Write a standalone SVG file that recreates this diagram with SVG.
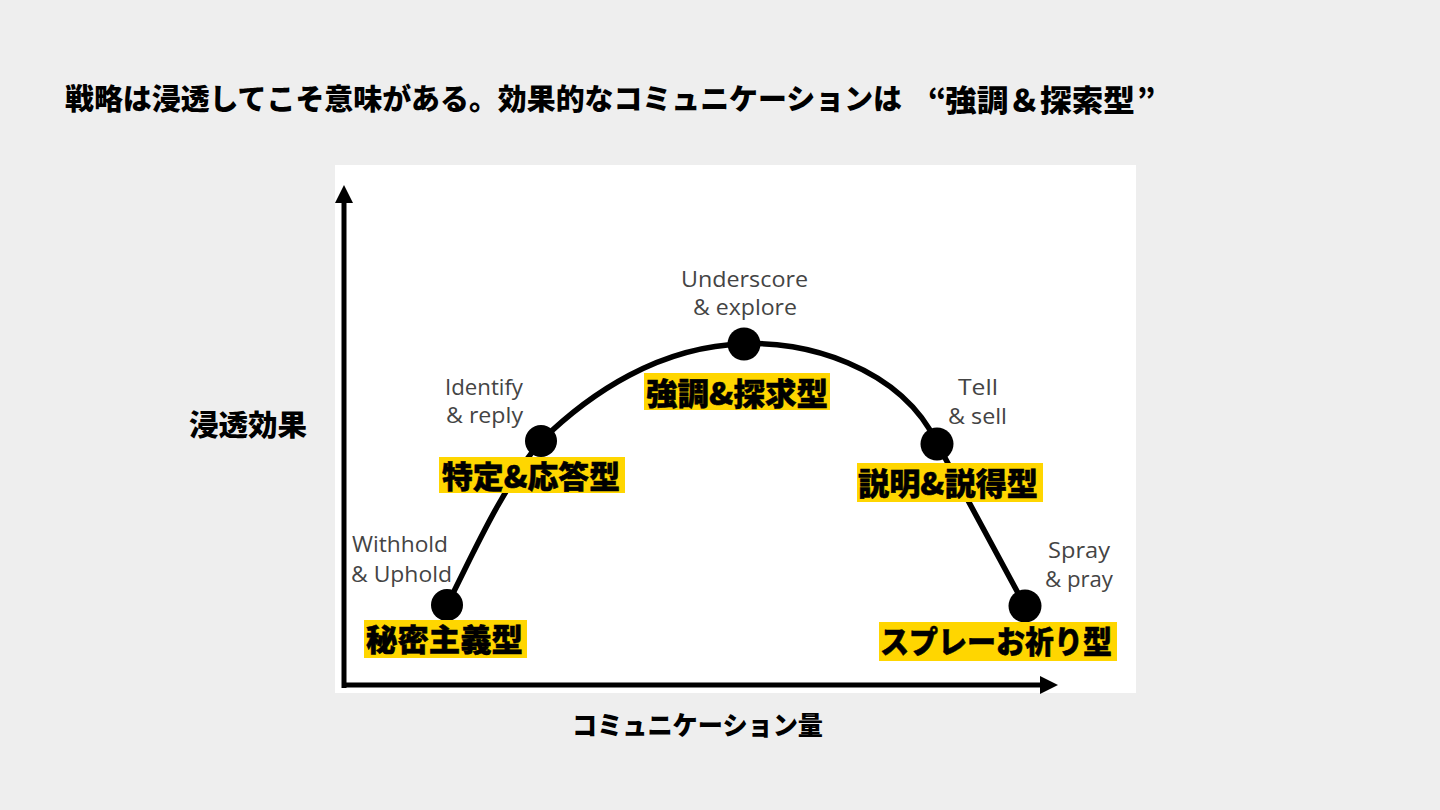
<svg xmlns="http://www.w3.org/2000/svg" width="1440" height="810" viewBox="0 0 1440 810">
  <style>
    .jp { font-family: "Noto Sans CJK JP", sans-serif; font-weight: 900; fill: #000; }
    .tag { font-family: "Noto Sans CJK JP", sans-serif; font-weight: 900; font-size: 31px; fill: #000; stroke: #000; stroke-width: 0.5; }
    .en { font-family: "Open Sans", "Noto Sans", sans-serif; font-size: 21.5px; fill: #444444; }
    .box { fill: #ffd600; }
    .dot { fill: #000; }
    .axis { stroke: #000; stroke-width: 5; fill: none; }
    .curve { stroke: #000; stroke-width: 5.5; fill: none; stroke-linecap: round; }
  </style>
  <defs>
    <marker id="arrow" viewBox="0 0 18 18" refX="0" refY="9" markerWidth="18" markerHeight="18" markerUnits="userSpaceOnUse" orient="auto">
      <path d="M0,0 L18,9 L0,18 z" fill="#000"/>
    </marker>
  </defs>

  <rect x="0" y="0" width="1440" height="810" fill="#eeeeee"/>

  <g id="title">
    <text class="jp" x="65" y="110" font-size="29" textLength="837" lengthAdjust="spacingAndGlyphs">戦略は浸透してこそ意味がある。効果的なコミュニケーションは</text>
    <text class="jp" x="928" y="110" font-size="29">“</text>
    <text class="jp" x="945" y="111" font-size="30" textLength="190" lengthAdjust="spacingAndGlyphs">強調＆探索型</text>
    <text class="jp" x="1137" y="110" font-size="29">”</text>
  </g>

  <rect id="panel" x="335" y="165" width="801" height="528" fill="#ffffff"/>

  <g id="axes">
    <line class="axis" x1="344" y1="688" x2="344" y2="203" marker-end="url(#arrow)"/>
    <line class="axis" x1="342" y1="685" x2="1040" y2="685" marker-end="url(#arrow)"/>
    <text id="y-label" class="jp" x="189" y="436" font-size="29" textLength="118" lengthAdjust="spacingAndGlyphs">浸透効果</text>
    <text id="x-label" class="jp" x="572" y="735" font-size="26" textLength="251" lengthAdjust="spacingAndGlyphs">コミュニケーション量</text>
  </g>

  <g id="connectors">
    <path class="curve" d="M447,605 C468,565 500,490 541,441 C590,393 660,346 744,344 C800,340 900,365 937,443 C962,490 992,545 1025,606"/>
  </g>

  <g id="node-withhold">
    <circle class="dot" cx="447" cy="605" r="16"/>
    <text class="en" x="352" y="552" textLength="96" lengthAdjust="spacingAndGlyphs">Withhold</text>
    <text class="en" x="351" y="582" textLength="101" lengthAdjust="spacingAndGlyphs">&amp; Uphold</text>
    <rect class="box" x="364" y="620" width="163" height="38"/>
    <text class="tag" x="366" y="651" textLength="157" lengthAdjust="spacingAndGlyphs">秘密主義型</text>
  </g>

  <g id="node-identify">
    <circle class="dot" cx="541" cy="441" r="16"/>
    <text class="en" x="445" y="395" textLength="78" lengthAdjust="spacingAndGlyphs">Identify</text>
    <text class="en" x="446" y="423" textLength="77" lengthAdjust="spacingAndGlyphs">&amp; reply</text>
    <rect class="box" x="439" y="457" width="186" height="36"/>
    <text class="tag" x="442" y="488" textLength="178" lengthAdjust="spacingAndGlyphs">特定&amp;応答型</text>
  </g>

  <g id="node-underscore">
    <circle class="dot" cx="744" cy="344" r="16.5"/>
    <text class="en" x="681" y="287" textLength="127" lengthAdjust="spacingAndGlyphs">Underscore</text>
    <text class="en" x="693" y="315" textLength="104" lengthAdjust="spacingAndGlyphs">&amp; explore</text>
    <rect class="box" x="644" y="373" width="186" height="37"/>
    <text class="tag" x="646" y="405" textLength="182" lengthAdjust="spacingAndGlyphs">強調&amp;探求型</text>
  </g>

  <g id="node-tell">
    <circle class="dot" cx="937" cy="444" r="16.5"/>
    <text class="en" x="958" y="395" textLength="40" lengthAdjust="spacingAndGlyphs">Tell</text>
    <text class="en" x="948" y="424" textLength="59" lengthAdjust="spacingAndGlyphs">&amp; sell</text>
    <rect class="box" x="857" y="463" width="186" height="39"/>
    <text class="tag" x="858" y="495" textLength="180" lengthAdjust="spacingAndGlyphs">説明&amp;説得型</text>
  </g>

  <g id="node-spray">
    <circle class="dot" cx="1025" cy="606" r="16.5"/>
    <text class="en" x="1048" y="558" textLength="62" lengthAdjust="spacingAndGlyphs">Spray</text>
    <text class="en" x="1045" y="587" textLength="68" lengthAdjust="spacingAndGlyphs">&amp; pray</text>
    <rect class="box" x="879" y="622" width="238" height="39"/>
    <text class="tag" x="880" y="653" textLength="232" lengthAdjust="spacingAndGlyphs">スプレーお祈り型</text>
  </g>
</svg>
